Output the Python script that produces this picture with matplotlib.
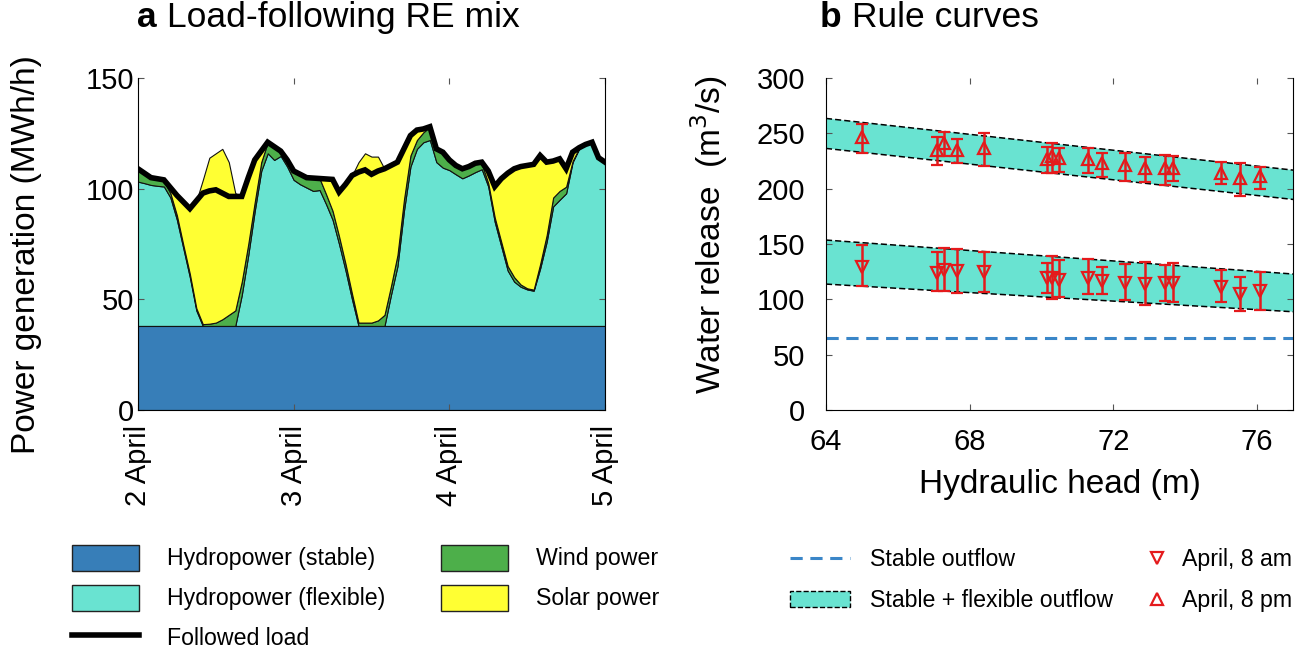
import matplotlib
matplotlib.use('Agg')
import matplotlib.pyplot as plt
import matplotlib.patches as mpatches
from matplotlib.lines import Line2D
import numpy as np

plt.rcParams.update({
    'font.family': ['Liberation Sans', 'DejaVu Sans'], 'font.size': 16,
    'xtick.direction': 'in', 'ytick.direction': 'in',
})

C = {'stable': '#377eb8', 'flex': '#69e3d1', 'wind': '#4daf4a', 'solar': '#ffff33',
     'red': '#e41a1c', 'outflow': '#3a86c8'}

# ---- panel a: hourly mix, 2-5 April ----
hours = list(range(73))
load = [109, 107, 105, 104.5, 104, 100.5, 97, 94, 91, 94.5, 98, 99, 99.5, 98, 96.5, 96.5, 96.5,
        105, 113, 117, 121, 119, 117, 113, 108, 106.5, 105, 104.8, 104.6, 104.4, 104.2, 98.5,
        102, 106, 107.5, 108.5, 106.5, 108, 109, 110.5, 112, 118, 124, 126.5, 127, 128, 118,
        116.5, 113, 110.5, 109, 110, 111.5, 112, 108, 101, 104.5, 107, 109, 110, 110.5, 111,
        115, 112, 112.5, 113.5, 109, 116.5, 118.5, 120, 121, 114, 112]
hydro_stable = [38] * 73
hydro_flex = [65.2, 64.5, 63.7, 63.3, 63, 58, 48, 35, 22, 7, 0, 0, 0, 0, 0, 0, 14, 32, 52, 70,
              78, 75, 76.8, 72, 66, 64, 62.5, 61, 61.4, 55, 48, 37, 25, 12, 0, 0, 0, 0, 0, 14,
              27, 52, 72, 80, 83, 84, 74, 71.5, 70.4, 68.5, 66.7, 68, 69.5, 70.8, 63, 47, 36,
              25, 20, 17.7, 16.5, 15.9, 26, 38, 54, 57, 59.9, 74, 80, 81.7, 82.7, 75.7, 73.7]
wind = [5.8, 4.5, 3.3, 3.2, 2.5, 2, 2, 1.5, 1.5, 1, 0.8, 1, 1.5, 3, 5, 7, 6, 5, 4, 4, 5, 6,
        2.2, 3, 4, 4.5, 4.5, 5.8, 5.2, 4.5, 4, 3.5, 3, 2.5, 1.5, 1.5, 1.5, 2.5, 5, 4, 5, 5, 5,
        4, 4.5, 6, 6, 7, 4.6, 4, 4.3, 4, 4, 2.5, 1.5, 2, 2, 2, 2, 1, 0.5, 0.5, 2, 3, 4, 4, 3,
        0.5, 0.3, 0.3, 0.3, 0.3, 0.3]
solar = [0, 0, 0, 0, 0.5, 2.5, 9, 19.5, 29.5, 48.5, 65.2, 75, 76.5, 77, 69, 53, 38.5, 30, 19,
         5, 0, 0, 0, 0, 0, 0, 0, 0, 0, 6.9, 14.2, 20, 36, 53.5, 72.5, 76.5, 75, 74, 66, 54.5,
         42, 23, 9, 4.5, 1.5, 0, 0, 0, 0, 0, 0, 0, 0, 0.7, 5.5, 14, 28.5, 42, 49, 53.3, 55.5,
         56.6, 49, 33, 16.5, 14.5, 8.1, 4, 0.2, 0, 0, 0, 0]
day_ticks = [0, 24, 48, 72]
day_labels = ['2 April', '3 April', '4 April', '5 April']

# ---- panel b: rule curves ----
head_range = [64, 77]
band_pm_top = [263.5, 216.8]
band_pm_bot = [236.4, 190.3]
band_am_top = [153.6, 122.9]
band_am_bot = [113.8, 88.8]
stable_outflow = 65

head = [65.0, 67.08, 67.28, 67.65, 68.39, 70.14, 70.30, 70.48, 71.29, 71.68, 72.33, 72.88,
        73.44, 73.67, 74.99, 75.53, 76.09]
pm_mid = [246.3, 234.9, 241.5, 234.9, 236.4, 226.5, 229.4, 227.3, 226.5, 222.8, 221.3, 218.3,
          218.3, 218.3, 214.4, 209.3, 211.4]
pm_lo = [232.4, 221.3, 229.7, 222.8, 220.7, 214.4, 214.4, 215.3, 213.8, 210.8, 207.2, 205.7,
         203.3, 206.9, 203.9, 193.6, 199.4]
pm_hi = [258.4, 246.9, 250.8, 244.8, 250.5, 237.9, 240.9, 237.0, 237.0, 232.7, 232.7, 228.8,
         230.4, 229.4, 223.7, 222.8, 219.8]
am_mid = [129.5, 124.0, 126.5, 125.9, 124.7, 119.5, 119.0, 117.4, 119.5, 116.8, 115.0, 113.8,
          114.5, 115.0, 111.4, 104.8, 107.8]
am_lo = [112.0, 107.5, 107.5, 106.0, 106.9, 106.0, 100.5, 101.8, 104.5, 104.8, 99.4, 94.6,
         98.7, 97.6, 97.3, 89.7, 90.3]
am_hi = [149.1, 142.4, 146.3, 145.7, 142.4, 133.1, 139.4, 135.5, 136.4, 129.5, 131.6, 133.4,
         131.0, 133.1, 126.5, 120.1, 124.4]

TICK_FS, LABEL_FS, TITLE_FS, LEG_FS = 21, 24, 25.5, 16.7

fig = plt.figure(figsize=(13.09, 6.53), dpi=100)
axa = fig.add_axes([0.1054, 0.3721, 0.3568, 0.5084])
axb = fig.add_axes([0.6310, 0.3721, 0.3568, 0.5084])

# panel a
axa.stackplot(hours, hydro_stable, hydro_flex, wind, solar,
              colors=[C['stable'], C['flex'], C['wind'], C['solar']],
              edgecolor='#111111', linewidth=0.8)
axa.plot(hours, load, color='k', lw=4, solid_joinstyle='miter')
axa.set_xlim(0, 72); axa.set_ylim(0, 150)
axa.set_yticks([0, 50, 100, 150])
axa.set_xticks(day_ticks)
axa.set_xticklabels(day_labels, rotation=90)
axa.tick_params(labelsize=TICK_FS, right=True, top=True, color='#555555', length=4)
axa.tick_params(axis='y', pad=3)
axa.tick_params(axis='x', pad=11)
axa.set_ylabel('Power generation (MWh/h)', fontsize=LABEL_FS)
axa.yaxis.set_label_coords(-0.206, 0.467)
axa.spines['top'].set_visible(False)
axa.text(-0.002, 1.181, 'a', transform=axa.transAxes, fontsize=TITLE_FS, fontweight='bold', va='center')
axa.text(0.062, 1.181, 'Load-following RE mix', transform=axa.transAxes, fontsize=TITLE_FS, va='center')

# panel b
axb.fill_between(head_range, band_pm_bot, band_pm_top, facecolor=C['flex'], edgecolor='none')
axb.fill_between(head_range, band_am_bot, band_am_top, facecolor=C['flex'], edgecolor='none')
for yy in (band_pm_top, band_pm_bot, band_am_top, band_am_bot):
    axb.plot(head_range, yy, color='k', ls='--', lw=1.1, dashes=(4, 2))
axb.axhline(stable_outflow, color=C['outflow'], ls='--', lw=2.2, dashes=(4, 2.5))

am = np.array(am_mid); pm = np.array(pm_mid)
axb.errorbar(head, pm, yerr=[pm - np.array(pm_lo), np.array(pm_hi) - pm], fmt='^', ms=9,
             mfc='none', mec=C['red'], mew=1.6, ecolor=C['red'], elinewidth=1.8, capsize=4, capthick=1.8)
axb.errorbar(head, am, yerr=[am - np.array(am_lo), np.array(am_hi) - am], fmt='v', ms=9,
             mfc='none', mec=C['red'], mew=1.6, ecolor=C['red'], elinewidth=1.8, capsize=4, capthick=1.8)
axb.set_xlim(64, 77); axb.set_ylim(0, 300)
axb.set_xticks([64, 68, 72, 76])
axb.set_yticks(range(0, 301, 50))
axb.tick_params(labelsize=TICK_FS, right=True, top=True, color='#555555', length=4)
axb.tick_params(axis='x', pad=13)
axb.tick_params(axis='y', pad=15)
axb.set_xlabel('Hydraulic head (m)', fontsize=LABEL_FS, labelpad=9)
axb.set_ylabel('Water release  (m$^3$/s)', fontsize=LABEL_FS)
axb.yaxis.set_label_coords(-0.206, 0.527)
axb.spines['top'].set_visible(False)
axb.text(-0.013, 1.181, 'b', transform=axb.transAxes, fontsize=TITLE_FS, fontweight='bold', va='center')
axb.text(0.056, 1.181, 'Rule curves', transform=axb.transAxes, fontsize=TITLE_FS, va='center')

# legends
leg_a = [
    mpatches.Patch(facecolor=C['stable'], edgecolor='#222222', label='Hydropower (stable)'),
    mpatches.Patch(facecolor=C['flex'], edgecolor='#222222', label='Hydropower (flexible)'),
    Line2D([], [], color='k', lw=4, label='Followed load'),
    mpatches.Patch(facecolor=C['wind'], edgecolor='#222222', label='Wind power'),
    mpatches.Patch(facecolor=C['solar'], edgecolor='#222222', label='Solar power'),
]
fig.legend(handles=leg_a, loc='upper left', bbox_to_anchor=(0.055, 0.166), ncol=2,
           frameon=False, fontsize=LEG_FS, handlelength=2.9, handleheight=1.35,
           handletextpad=1.2, columnspacing=2.4, labelspacing=0.6,
           borderpad=0, borderaxespad=0)

leg_b1 = [
    Line2D([], [], color=C['outflow'], ls='--', lw=2.2, dashes=(4, 2.5), label='Stable outflow'),
    mpatches.Patch(facecolor=C['flex'], edgecolor='k', ls='--', lw=1, label='Stable + flexible outflow'),
]
fig.legend(handles=leg_b1, loc='upper left', bbox_to_anchor=(0.6035, 0.161), frameon=False,
           fontsize=LEG_FS, handlelength=2.6, handleheight=0.7, handletextpad=0.87,
           labelspacing=0.8, borderpad=0, borderaxespad=0)
leg_b2 = [
    Line2D([], [], ls='none', marker='v', ms=9, mfc='none', mec=C['red'], mew=1.6, label='April, 8 am'),
    Line2D([], [], ls='none', marker='^', ms=9, mfc='none', mec=C['red'], mew=1.6, label='April, 8 pm'),
]
fig.legend(handles=leg_b2, loc='upper left', bbox_to_anchor=(0.875, 0.161), frameon=False,
           fontsize=LEG_FS, handlelength=1.0, handleheight=0.7, handletextpad=0.6,
           labelspacing=0.8, borderpad=0, borderaxespad=0)

fig.savefig('out.png', dpi=100, facecolor='white')
